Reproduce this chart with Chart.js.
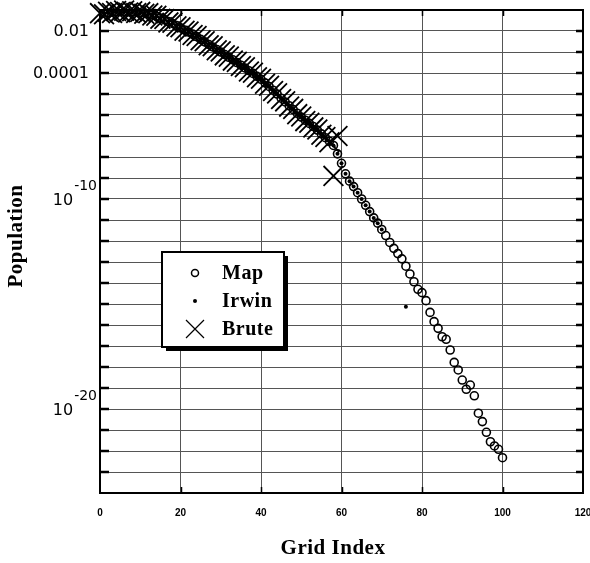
<!DOCTYPE html>
<html>
<head>
<meta charset="utf-8">
<script src="https://cdn.jsdelivr.net/npm/chart.js"></script>
<style>
  body { margin: 0; background: #fff; }
  #chart { display: block; }
</style>
</head>
<body>
<canvas id="chart" width="590" height="563"></canvas>
<script>
// values, stored as log10(population)
const mapLog = [
  -1.2, -1.15, -1.12, -1.1, -1.08, -1.07, -1.07, -1.08, -1.09, -1.1,
  -1.12, -1.14, -1.17, -1.22, -1.3, -1.38, -1.46, -1.55, -1.64, -1.74,
  -1.85, -1.95, -2.05, -2.15, -2.27, -2.4, -2.52, -2.64, -2.76, -2.88,
  -3.0, -3.12, -3.25, -3.37, -3.5, -3.63, -3.76, -3.89, -4.02, -4.16,
  -4.3, -4.47, -4.64, -4.82, -5.0, -5.2, -5.38, -5.56, -5.74, -5.92,
  -6.1, -6.25, -6.4, -6.55, -6.72, -6.9, -7.08, -7.25, -7.45, -7.85,
  -8.3, -8.8, -9.15, -9.41, -9.7, -10.0, -10.3, -10.6, -10.9, -11.15,
  -11.45, -11.74, -12.07, -12.35, -12.6, -12.85, -13.2, -13.57, -13.94, -14.3,
  -14.46, -14.84, -15.4, -15.84, -16.16, -16.56, -16.68, -17.19, -17.78, -18.14,
  -18.62, -19.06, -18.86, -19.37, -20.2, -20.6, -21.11, -21.56, -21.76, -21.92,
  -22.32
];
const irwinX = [
  0, 1, 2, 3, 4, 5, 6, 7, 8, 9, 10, 11, 12, 13, 14, 15, 16, 17, 18, 19,
  20, 21, 22, 23, 24, 25, 26, 27, 28, 29, 30, 31, 32, 33, 34, 35, 36, 37, 38, 39,
  40, 41, 42, 43, 44, 45, 46, 47, 48, 49, 50, 51, 52, 53, 54, 55, 56, 57, 58, 59,
  60, 61, 62, 63, 64, 65, 66, 67, 68, 69, 70, 76
];
const irwinLog = [
  -1.19, -1.15, -1.12, -1.1, -1.08, -1.07, -1.07, -1.08, -1.09, -1.1,
  -1.12, -1.14, -1.17, -1.22, -1.3, -1.38, -1.46, -1.55, -1.64, -1.74,
  -1.85, -1.95, -2.05, -2.15, -2.27, -2.4, -2.52, -2.64, -2.76, -2.88,
  -3.0, -3.12, -3.25, -3.37, -3.5, -3.63, -3.76, -3.89, -4.02, -4.16,
  -4.3, -4.47, -4.64, -4.82, -5.0, -5.2, -5.38, -5.56, -5.74, -5.92,
  -6.1, -6.25, -6.4, -6.55, -6.72, -6.9, -7.08, -7.25, -7.45, -7.85,
  -8.3, -8.8, -9.15, -9.41, -9.7, -10.0, -10.3, -10.6, -10.9, -11.15,
  -11.45, -15.13
];
const bruteX = [
  0, 1, 2, 3, 4, 5, 6, 7, 8, 9, 10, 11, 12, 13, 14, 15, 16, 17, 18, 19,
  20, 21, 22, 23, 24, 25, 26, 27, 28, 29, 30, 31, 32, 33, 34, 35, 36, 37, 38, 39,
  40, 41, 42, 43, 44, 45, 46, 47, 48, 49, 50, 51, 52, 53, 54, 55, 56, 57, 58, 59
];
const bruteLog = [
  -1.15, -1.2, -1.08, -1.14, -1.05, -1.1, -1.03, -1.12, -1.06, -1.14,
  -1.09, -1.18, -1.15, -1.26, -1.27, -1.42, -1.43, -1.59, -1.61, -1.78,
  -1.82, -1.99, -2.02, -2.19, -2.24, -2.44, -2.49, -2.68, -2.73, -2.92,
  -2.97, -3.16, -3.22, -3.41, -3.47, -3.67, -3.73, -3.93, -3.99, -4.2,
  -4.27, -4.51, -4.61, -4.86, -4.97, -5.24, -5.35, -5.6, -5.71, -5.96,
  -6.07, -6.29, -6.37, -6.59, -6.69, -6.94, -7.05, -7.3, -8.9, -7.0
];

const xTicks = [0, 20, 40, 60, 80, 100, 120];
const yDecades = [1e-1, 1e-2, 1e-3, 1e-4, 1e-5, 1e-6, 1e-7, 1e-8, 1e-9, 1e-10, 1e-11, 1e-12,
  1e-13, 1e-14, 1e-15, 1e-16, 1e-17, 1e-18, 1e-19, 1e-20, 1e-21, 1e-22, 1e-23, 1e-24];
const yLabelValues = [1e-2, 1e-4, 1e-10, 1e-20];
const yLabelBase = ['0.01', '0.0001', '10', '10'];
const yLabelSup = ['', '', '-10', '-20'];

const serif = '"Liberation Serif", "Times New Roman", serif';

const mapPoints = mapLog.map((v, i) => ({ x: i, y: Math.pow(10, v) }));
const irwinPoints = irwinX.map((x, i) => ({ x: x, y: Math.pow(10, irwinLog[i]) }));
const brutePoints = bruteX.map((x, i) => ({ x: x, y: Math.pow(10, bruteLog[i]) }));

// frame, inner tick marks, y labels with superscripts, axis titles, legend box
const decorPlugin = {
  id: 'decor',
  afterDraw(chart) {
    const ctx = chart.ctx;
    const a = chart.chartArea;
    const xs = chart.scales.x, ys = chart.scales.y;
    ctx.save();

    ctx.strokeStyle = '#000';
    ctx.lineWidth = 2.5;
    yDecades.slice(1, -1).forEach(v => {
      const y = Math.round(ys.getPixelForValue(v));
      ctx.beginPath();
      ctx.moveTo(a.left, y); ctx.lineTo(a.left + 9, y);
      ctx.moveTo(a.right - 7, y); ctx.lineTo(a.right, y);
      ctx.stroke();
    });
    ctx.lineWidth = 1.5;
    xTicks.slice(1, -1).forEach(v => {
      const x = Math.round(xs.getPixelForValue(v)) + 0.5;
      ctx.beginPath();
      ctx.moveTo(x, a.bottom); ctx.lineTo(x, a.bottom - 6);
      ctx.moveTo(x, a.top); ctx.lineTo(x, a.top + 6);
      ctx.stroke();
    });

    ctx.lineWidth = 2;
    ctx.strokeRect(a.left, a.top, a.right - a.left, a.bottom - a.top);

    // y tick labels
    ctx.fillStyle = '#000';
    ctx.textAlign = 'right';
    yLabelValues.forEach((v, i) => {
      const y = ys.getPixelForValue(v);
      if (!yLabelSup[i]) {
        ctx.font = '16px "DejaVu Sans"';
        ctx.textBaseline = 'middle';
        ctx.fillText(yLabelBase[i], a.left - 11, y + 1);
      } else {
        ctx.font = '14px "DejaVu Sans"';
        ctx.textBaseline = 'alphabetic';
        const sw = ctx.measureText(yLabelSup[i]).width;
        ctx.fillText(yLabelSup[i], a.left - 3, y - 9);
        ctx.font = '16px "DejaVu Sans"';
        ctx.fillText(yLabelBase[i], a.left - 4 - sw, y + 6);
      }
    });

    // axis titles
    ctx.font = 'bold 21px ' + serif;
    ctx.letterSpacing = '0.5px';
    ctx.textAlign = 'center';
    ctx.textBaseline = 'middle';
    ctx.fillText('Grid Index', 333, 549);
    ctx.save();
    ctx.translate(17, 236);
    ctx.rotate(-Math.PI / 2);
    ctx.fillText('Population', 0, 0);
    ctx.restore();

    // legend
    const bx = 162, by = 252, bw = 122, bh = 95;
    ctx.fillStyle = '#000';
    ctx.fillRect(bx + 4, by + 4, bw, bh);
    ctx.fillStyle = '#fff';
    ctx.fillRect(bx, by, bw, bh);
    ctx.lineWidth = 2;
    ctx.strokeStyle = '#000';
    ctx.strokeRect(bx, by, bw, bh);
    const rowY = [273, 301, 329];
    ctx.font = 'bold 20px ' + serif;
    ctx.textAlign = 'left';
    ctx.textBaseline = 'middle';
    chart.data.datasets.forEach((ds, i) => {
      ctx.fillStyle = '#000';
      ctx.strokeStyle = '#000';
      ctx.lineWidth = 1.5;
      if (ds.pointStyle === 'crossRot') {
        ctx.lineWidth = 1.2;
        ctx.beginPath();
        const r = 9;
        ctx.moveTo(195 - r, rowY[i] - r); ctx.lineTo(195 + r, rowY[i] + r);
        ctx.moveTo(195 + r, rowY[i] - r); ctx.lineTo(195 - r, rowY[i] + r);
        ctx.stroke();
      } else {
        ctx.beginPath();
        ctx.arc(195, rowY[i], ds.label === 'Irwin' ? 2 : 3.5, 0, Math.PI * 2);
        if (ds.label === 'Irwin') ctx.fill(); else ctx.stroke();
      }
      ctx.fillText(ds.label, 222, rowY[i] + 1);
    });
    ctx.restore();
  }
};

new Chart(document.getElementById('chart'), {
  type: 'scatter',
  data: {
    datasets: [
      {
        label: 'Map', data: mapPoints, order: 2,
        pointStyle: 'circle', pointRadius: 4, borderWidth: 1.6,
        borderColor: '#000', backgroundColor: 'rgba(0,0,0,0)'
      },
      {
        label: 'Irwin', data: irwinPoints, order: 1,
        pointStyle: 'circle', pointRadius: 2, borderWidth: 0,
        borderColor: '#000', backgroundColor: '#000'
      },
      {
        label: 'Brute', data: brutePoints, order: 3, clip: false,
        pointStyle: 'crossRot', pointRadius: 14, borderWidth: 1.8,
        borderColor: '#000', backgroundColor: '#000'
      }
    ]
  },
  options: {
    responsive: false,
    animation: false,
    layout: { autoPadding: false, padding: { top: 10, right: 7, bottom: 0, left: 0 } },
    plugins: { legend: { display: false }, tooltip: { enabled: false } },
    scales: {
      x: {
        type: 'linear', min: 0, max: 120,
        afterBuildTicks: s => { s.ticks = xTicks.map(v => ({ value: v })); },
        afterFit: s => { s.height = 70; s.paddingLeft = 0; s.paddingRight = 0; },
        border: { display: false },
        grid: { color: '#555', lineWidth: 1, drawTicks: false, borderDash: [2, 2] },
        ticks: {
          color: '#000', padding: 14, maxRotation: 0,
          font: { family: '"Liberation Sans", Arial, sans-serif', size: 10, weight: 'bold' }
        }
      },
      y: {
        type: 'logarithmic', min: 1e-24, max: 1e-1,
        afterBuildTicks: s => { s.ticks = yDecades.map(v => ({ value: v })); },
        afterFit: s => { s.width = 100; s.paddingTop = 0; s.paddingBottom = 0; },
        border: { display: false },
        grid: { color: '#555', lineWidth: 1, drawTicks: false, borderDash: [2, 2] },
        ticks: { display: false }
      }
    }
  },
  plugins: [decorPlugin]
});
</script>
</body>
</html>
